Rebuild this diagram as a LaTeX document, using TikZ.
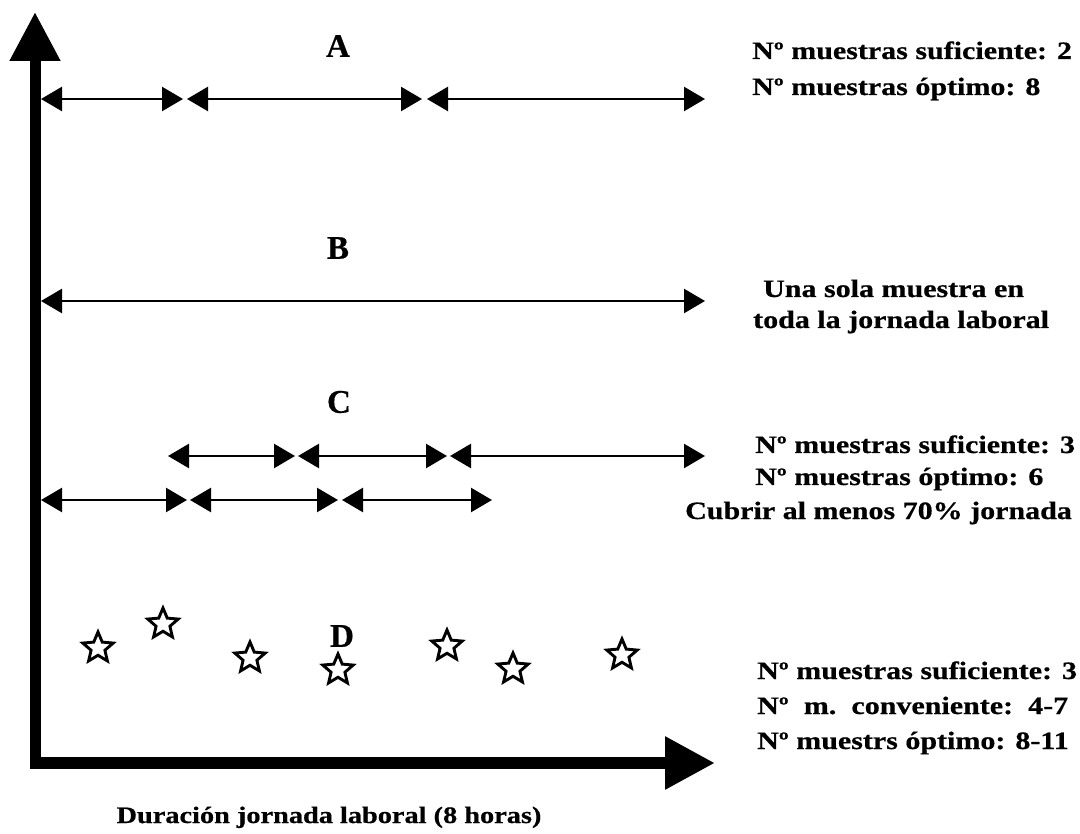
\documentclass[tikz,border=0pt]{standalone}
\usepackage{fontspec}
\setmainfont{Liberation Serif}[FakeStretch=1.2,BoldFeatures={FakeBold=0.6}]
\newfontfamily\letterfont{Liberation Serif}[BoldFeatures={FakeBold=0.6}]
\usetikzlibrary{arrows.meta,shapes.geometric}
\begin{document}
\begin{tikzpicture}[x=1pt,y=-1pt,
  seg/.style={line width=2.4pt,{Triangle[length=21pt,width=24pt]}-{Triangle[length=21pt,width=24pt]}},
  axisline/.style={line width=11pt,-{Triangle[length=49pt,width=48pt]}},
  txt/.style={font=\bfseries\fontsize{25}{29}\selectfont,inner sep=0pt,anchor=base west},
  lab/.style={font=\letterfont\bfseries\fontsize{33}{36}\selectfont,inner sep=0pt},
  mystar/.style={star,star points=5,star point ratio=2.2,minimum size=32pt,inner sep=0pt,draw=black,line width=2.9pt,fill=white}]
\useasboundingbox (0,0) rectangle (1080,834);
\fill[white] (0,0) rectangle (1080,834);
% axes
\coordinate (yo) at (35,758);
\coordinate (ytop) at (35,12);
\draw[axisline] (yo) -- (ytop);
\coordinate (xo) at (30,763);
\coordinate (xend) at (715,763);
\draw[line width=12pt,-{Triangle[length=50pt,width=50pt]}] (xo) -- (xend);
% row A
\coordinate (a0) at (41,99);
\coordinate (a1) at (183,99);
\coordinate (a2) at (187,99);
\coordinate (a3) at (422,99);
\coordinate (a4) at (427,99);
\coordinate (a5) at (705,99);
\draw[seg] (a0) -- (a1);
\draw[seg] (a2) -- (a3);
\draw[seg] (a4) -- (a5);
% row B
\coordinate (b0) at (41,301);
\coordinate (b1) at (705,301);
\draw[seg] (b0) -- (b1);
% row C upper
\coordinate (c0) at (168,456);
\coordinate (c1) at (295,456);
\coordinate (c2) at (298,456);
\coordinate (c3) at (447,456);
\coordinate (c4) at (450,456);
\coordinate (c5) at (705,456);
\draw[seg] (c0) -- (c1);
\draw[seg] (c2) -- (c3);
\draw[seg] (c4) -- (c5);
% row C lower
\coordinate (d0) at (41,500);
\coordinate (d1) at (187,500);
\coordinate (d2) at (190,500);
\coordinate (d3) at (338,500);
\coordinate (d4) at (342,500);
\coordinate (d5) at (492,500);
\draw[seg] (d0) -- (d1);
\draw[seg] (d2) -- (d3);
\draw[seg] (d4) -- (d5);
% letters
\node[lab] (labA) at (338,46) {A};
\node[lab] (labB) at (338,248) {B};
\node[lab] (labC) at (339,402) {C};
\node[lab] (labD) at (342,636) {D};
% stars
\node[mystar] (s1) at (98,648) {};
\node[mystar] (s2) at (163,624) {};
\node[mystar] (s3) at (250,658) {};
\node[mystar] (s4) at (338,670) {};
\node[mystar] (s5) at (447,646) {};
\node[mystar] (s6) at (513,669) {};
\node[mystar] (s7) at (622,655) {};
% texts A
\node[txt] (ta1) at (752,59) {Nº muestras suficiente: 2};
\node[txt] (ta2) at (752,95) {Nº muestras óptimo: 8};
% texts B
\node[txt] (tb1) at (763,297) {Una sola muestra en};
\node[txt] (tb2) at (753,328) {toda la jornada laboral};
% texts C
\node[txt] (tc1) at (755,453) {Nº muestras suficiente: 3};
\node[txt] (tc2) at (755,485) {Nº muestras óptimo: 6};
\node[txt] (tc3) at (685,519) {Cubrir al menos 70\% jornada};
% texts D
\node[txt] (td1) at (757,679) {Nº muestras suficiente: 3};
\node[txt] (td2) at (757,714) {\hbox to 311pt{Nº\hfill m.\hfill conveniente:\hfill 4-7}};
\node[txt] (td3) at (757,749) {Nº muestrs óptimo: 8-11};
% axis label
\node[txt,anchor=base,font=\bfseries\fontsize{23.6}{27}\selectfont] (xlab) at (329,823) {Duración jornada laboral (8 horas)};
\end{tikzpicture}
\end{document}
